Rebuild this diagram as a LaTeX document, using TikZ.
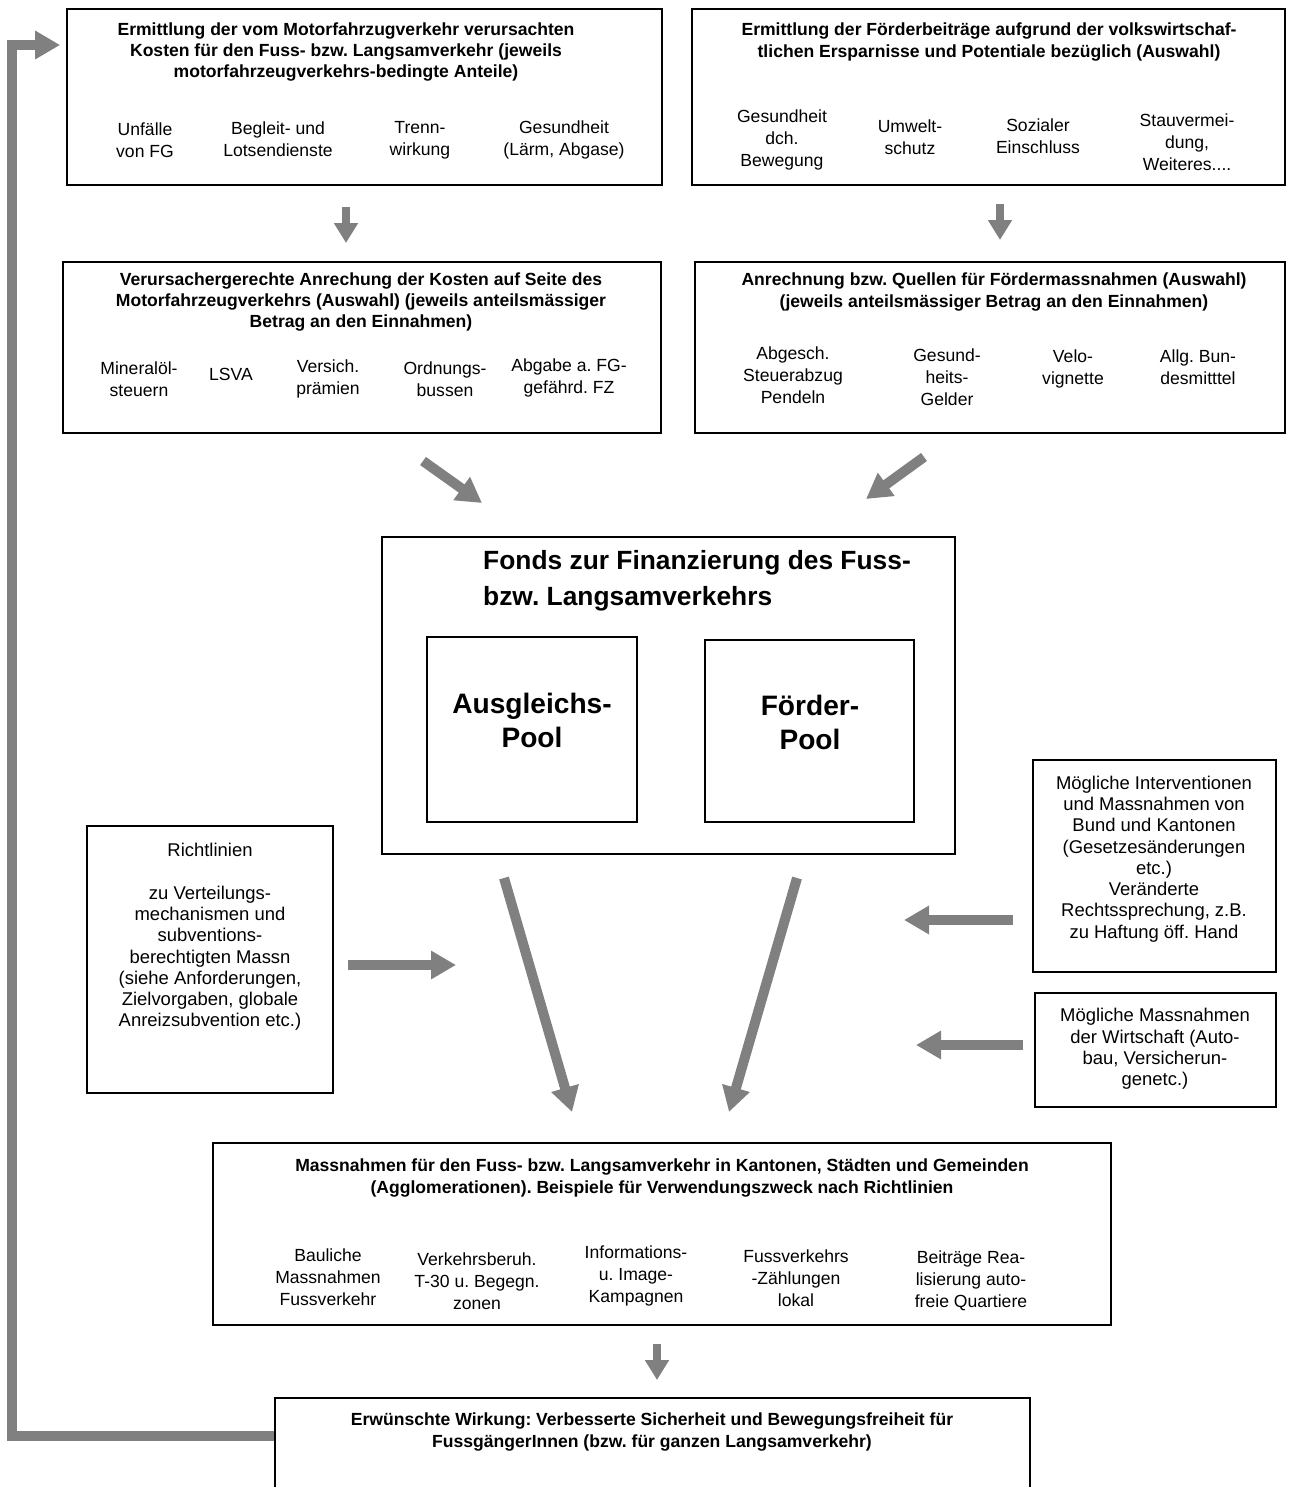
\documentclass[tikz,border=0pt]{standalone}
\usepackage{fontspec}
\setmainfont{Liberation Sans}
\usetikzlibrary{arrows.meta,positioning,fit,calc}
\definecolor{fgGray}{RGB}{128,128,128}
\frenchspacing

\begin{document}
\begin{tikzpicture}[x=0.02cm, y=-0.02cm,
  box/.style={draw, line width=1pt, inner sep=0pt},
  ttl/.style={font=\fontsize{10}{12.2}\selectfont\bfseries, align=center},
  itm/.style={font=\fontsize{10}{12.5}\selectfont, align=center},
  txt/.style={font=\fontsize{10.5}{12.1}\selectfont, align=center},
  big/.style={font=\fontsize{16}{19.3}\selectfont\bfseries, align=center},
  gar/.style={draw=fgGray, line width=0.2cm, -{Triangle[length=0.5cm, width=0.54cm]}},
  gars/.style={draw=fgGray, line width=0.17cm, -{Triangle[length=0.4cm, width=0.46cm]}}
]
  \useasboundingbox (0,0) rectangle (1295,1487);

  % obere Reihe
  \node[box, fit={(67,9) (662,185)}] (kost) {};
  \node[ttl] (kostT) at (346,52) {Ermittlung der vom Motorfahrzugverkehr verursachten\\Kosten für den Fuss- bzw. Langsamverkehr (jeweils\\motorfahrzeugverkehrs-bedingte Anteile)};
  \node[itm] (k1) at (145,140) {Unfälle\\von FG};
  \node[itm] (k2) at (278,139) {Begleit- und\\Lotsendienste};
  \node[itm] (k3) at (420,140) {Trenn-\\wirkung};
  \node[itm] (k4) at (564,140) {Gesundheit\\(Lärm, Abgase)};

  \node[box, fit={(692,9) (1285,185)}] (foerd) {};
  \node[ttl] (foerdT) at (989,42) {Ermittlung der Förderbeiträge aufgrund der volkswirtschaf-\\tlichen Ersparnisse und Potentiale bezüglich (Auswahl)};
  \node[itm] (f1) at (782,140) {Gesundheit\\dch.\\Bewegung};
  \node[itm] (f2) at (910,137) {Umwelt-\\schutz};
  \node[itm] (f3) at (1038,136) {Sozialer\\Einschluss};
  \node[itm] (f4) at (1187,142) {Stauvermei-\\dung,\\Weiteres....};

  % zweite Reihe
  \node[box, fit={(63,262) (661,433)}] (anr) {};
  \node[ttl] (anrT) at (361,302) {Verursachergerechte Anrechung der Kosten auf Seite des\\Motorfahrzeugverkehrs (Auswahl) (jeweils anteilsmässiger\\Betrag an den Einnahmen)};
  \node[itm] (a1) at (139,379) {Mineralöl-\\steuern};
  \node[itm] (a2) at (231,374) {LSVA};
  \node[itm] (a3) at (328,379) {Versich.\\prämien};
  \node[itm] (a4) at (445,379) {Ordnungs-\\bussen};
  \node[itm] (a5) at (569,378) {Abgabe a. FG-\\gefährd. FZ};

  \node[box, fit={(695,262) (1285,433)}] (quel) {};
  \node[ttl] (quelT) at (994,292) {Anrechnung bzw. Quellen für Fördermassnahmen (Auswahl)\\(jeweils anteilsmässiger Betrag an den Einnahmen)};
  \node[itm] (q1) at (793,375) {Abgesch.\\Steuerabzug\\Pendeln};
  \node[itm] (q2) at (947,377) {Gesund-\\heits-\\Gelder};
  \node[itm] (q3) at (1073,369) {Velo-\\vignette};
  \node[itm] (q4) at (1198,367) {Allg. Bun-\\desmitttel};

  % Fonds
  \node[box, fit={(382,537) (955,854)}] (fonds) {};
  \node[big, align=left, anchor=west, font=\fontsize{15}{20.4}\selectfont\bfseries] (fondsT) at (477,581) {Fonds zur Finanzierung des Fuss-\\bzw. Langsamverkehrs};
  \node[box, fit={(427,637) (637,822)}] (ausg) {};
  \node[big] (ausgT) at (532,720) {Ausgleichs-\\Pool};
  \node[box, fit={(705,640) (914,822)}] (fpool) {};
  \node[big] (fpoolT) at (810,722) {Förder-\\Pool};

  % Seitenkästen
  \node[box, fit={(87,826) (333,1093)}] (richt) {};
  \node[txt] (richtT) at (210,937) {Richtlinien\\[12.1pt]zu Verteilungs-\\mechanismen und\\subventions-\\berechtigten Massn\\(siehe Anforderungen,\\Zielvorgaben, globale\\Anreizsubvention etc.)};
  \node[box, fit={(1033,760) (1276,972)}] (bund) {};
  \node[txt] (bundT) at (1154,859) {Mögliche Interventionen\\und Massnahmen von\\Bund und Kantonen\\(Gesetzesänderungen\\etc.)\\Veränderte\\Rechtssprechung, z.B.\\zu Haftung öff. Hand};
  \node[box, fit={(1035,993) (1276,1107)}] (wirt) {};
  \node[txt] (wirtT) at (1155,1049) {Mögliche Massnahmen\\der Wirtschaft (Auto-\\bau, Versicherun-\\genetc.)};

  % Massnahmen
  \node[box, fit={(213,1143) (1111,1325)}] (mass) {};
  \node[ttl] (massT) at (662,1178) {Massnahmen für den Fuss- bzw. Langsamverkehr in Kantonen, Städten und Gemeinden\\(Agglomerationen). Beispiele für Verwendungszweck nach Richtlinien};
  \node[itm] (m1) at (328,1277) {Bauliche\\Massnahmen\\Fussverkehr};
  \node[itm] (m2) at (477,1281) {Verkehrsberuh.\\T-30 u. Begegn.\\zonen};
  \node[itm] (m3) at (636,1276) {Informations-\\u. Image-\\Kampagnen};
  \node[itm] (m4) at (796,1278) {Fussverkehrs\\-Zählungen\\lokal};
  \node[itm] (m5) at (971,1281) {Beiträge Rea-\\lisierung auto-\\freie Quartiere};

  \node[box, fit={(275,1398) (1030,1510)}] (wirk) {};
  \node[ttl] (wirkT) at (652,1432) {Erwünschte Wirkung: Verbesserte Sicherheit und Bewegungsfreiheit für\\FussgängerInnen (bzw. für ganzen Langsamverkehr)};

  % Pfeile
  \coordinate (d1a) at (346,207);  \coordinate (d1b) at (346,243);
  \coordinate (d2a) at (1000,204); \coordinate (d2b) at (1000,240);
  \coordinate (s1a) at (423,461);  \coordinate (s1b) at (482,503);
  \coordinate (s2a) at (924,457);  \coordinate (s2b) at (866,499);
  \coordinate (r1a) at (348,965);  \coordinate (r1b) at (456,965);
  \coordinate (l1a) at (504,878);  \coordinate (l1b) at (572,1112);
  \coordinate (l2a) at (797,878);  \coordinate (l2b) at (729,1112);
  \coordinate (b1a) at (1013,920); \coordinate (b1b) at (904,920);
  \coordinate (b2a) at (1023,1045);\coordinate (b2b) at (916,1045);
  \coordinate (d3a) at (657,1344); \coordinate (d3b) at (657,1380);
  \coordinate (fb) at (12,45);
  \draw[gars] (d1a) -- (d1b);
  \draw[gars] (d2a) -- (d2b);
  \draw[gar] (s1a) -- (s1b);
  \draw[gar] (s2a) -- (s2b);
  \draw[gar] (r1a) -- (r1b);
  \draw[gar] (l1a) -- (l1b);
  \draw[gar] (l2a) -- (l2b);
  \draw[gar] (b1a) -- (b1b);
  \draw[gar] (b2a) -- (b2b);
  \draw[gars] (d3a) -- (d3b);
  \draw[gar, line width=0.19cm, line join=miter] ($(wirk.north west)+(0,39)$) -| (fb) -- ([xshift=-0.12cm]kost.west |- fb);
\end{tikzpicture}
\end{document}
